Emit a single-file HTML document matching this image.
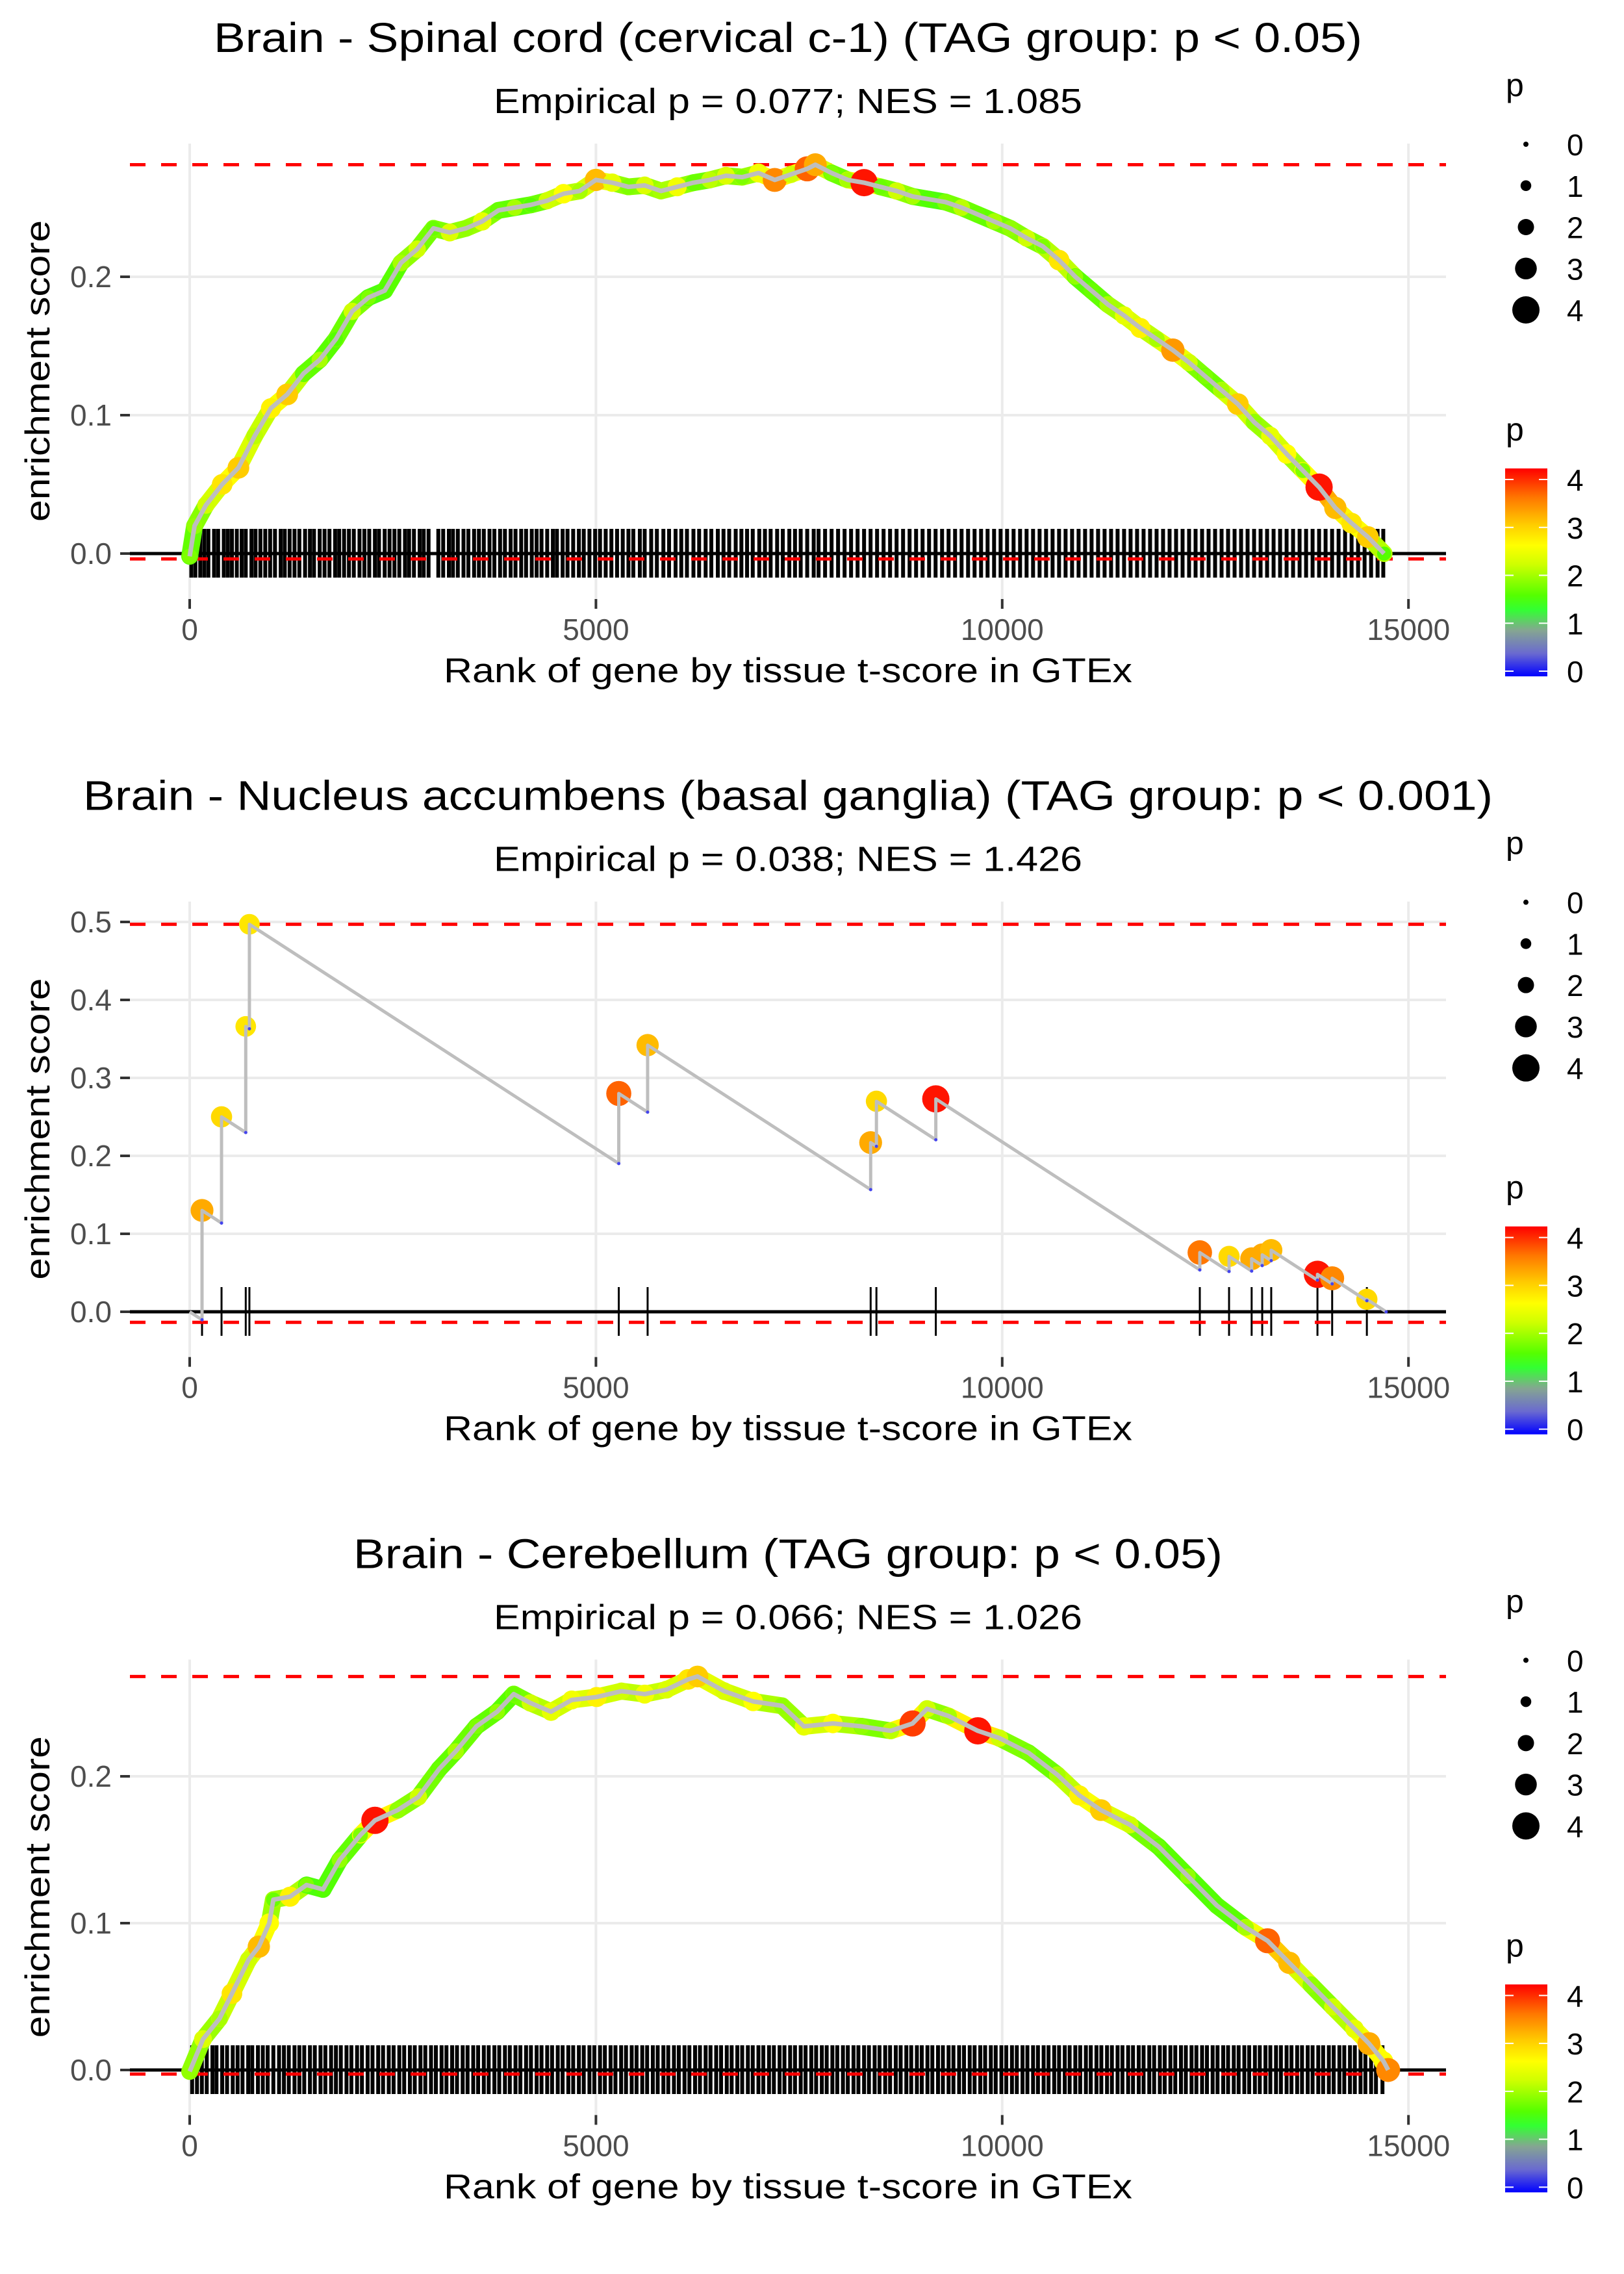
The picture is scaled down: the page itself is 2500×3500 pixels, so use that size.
<!DOCTYPE html>
<html><head><meta charset="utf-8"><title>GSEA enrichment plots</title>
<style>
html,body{margin:0;padding:0;background:#fff;}
svg{display:block;font-family:"Liberation Sans",Arial,sans-serif;}
</style></head>
<body>
<svg id="chart" xmlns="http://www.w3.org/2000/svg" width="2500" height="3500" viewBox="0 0 2500 3500">
<defs>
<linearGradient id="pgrad" x1="0" y1="1" x2="0" y2="0">
<stop offset="0" stop-color="#0000ff"/>
<stop offset="0.11" stop-color="#6a6ad0"/>
<stop offset="0.22" stop-color="#85a592"/>
<stop offset="0.32" stop-color="#33ff33"/>
<stop offset="0.39" stop-color="#55ff00"/>
<stop offset="0.54" stop-color="#d0ff00"/>
<stop offset="0.63" stop-color="#ffff00"/>
<stop offset="0.73" stop-color="#ffcc00"/>
<stop offset="0.86" stop-color="#ff7700"/>
<stop offset="1" stop-color="#ff0000"/>
</linearGradient>
</defs>
<rect x="0" y="0" width="2500" height="3500" fill="#fff"/>
<g id="panels"></g>
</svg>
<script>
// ---------- data ----------
const xTicks = [0, 5000, 10000, 15000];
const xTickLabels = ["0", "5000", "10000", "15000"];
const legendPValues = [0, 1, 2, 3, 4];

const titles = [
  "Brain - Spinal cord (cervical c-1) (TAG group: p < 0.05)",
  "Brain - Nucleus accumbens (basal ganglia) (TAG group: p < 0.001)",
  "Brain - Cerebellum (TAG group: p < 0.05)"
];
const subtitles = [
  "Empirical p = 0.077; NES = 1.085",
  "Empirical p = 0.038; NES = 1.426",
  "Empirical p = 0.066; NES = 1.026"
];

const yTicks1 = [0, 0.1, 0.2];
const yTickLabels1 = ["0.0", "0.1", "0.2"];
const yTicks2 = [0, 0.1, 0.2, 0.3, 0.4, 0.5];
const yTickLabels2 = ["0.0", "0.1", "0.2", "0.3", "0.4", "0.5"];
const yTicks3 = [0, 0.1, 0.2];
const yTickLabels3 = ["0.0", "0.1", "0.2"];

// Panel 1: Spinal cord
const ranks1 = [0,60,200,400,600,800,1000,1200,1400,1600,1800,2000,2200,2400,2600,2800,3000,3200,3400,3600,3800,4000,4200,4400,4600,4800,5000,5200,5400,5600,5800,6000,6200,6400,6600,6800,7000,7200,7400,7600,7700,7900,8100,8300,8500,8700,8900,9100,9300,9500,9700,9900,10100,10300,10500,10700,10900,11100,11300,11500,11700,11900,12100,12300,12500,12700,12900,13100,13300,13500,13700,13900,14100,14300,14500,14700];
const es1 = [-0.002,0.02,0.035,0.05,0.062,0.085,0.105,0.115,0.13,0.14,0.155,0.175,0.185,0.19,0.21,0.22,0.235,0.232,0.235,0.24,0.248,0.25,0.252,0.255,0.26,0.262,0.27,0.268,0.265,0.266,0.262,0.265,0.268,0.27,0.273,0.272,0.275,0.27,0.274,0.278,0.281,0.275,0.27,0.268,0.265,0.262,0.258,0.256,0.254,0.25,0.245,0.24,0.235,0.228,0.222,0.212,0.2,0.19,0.18,0.172,0.163,0.155,0.147,0.138,0.128,0.118,0.108,0.095,0.085,0.072,0.06,0.048,0.033,0.022,0.012,0.0];
const p1 = [1.8,1.9,2.2,2.8,3.0,2.1,2.7,3.0,1.7,2.0,1.6,2.2,1.8,1.6,2.0,2.2,1.7,2.3,1.9,2.4,1.7,2.0,1.6,2.2,2.6,2.0,3.1,2.4,1.8,2.3,2.0,2.5,1.7,2.1,2.3,1.8,2.5,3.4,2.2,3.6,3.2,1.8,2.0,4.0,1.7,2.2,2.0,1.6,1.8,2.1,1.7,2.0,1.9,2.2,1.8,2.8,1.9,1.7,2.0,2.4,2.7,2.0,3.3,2.2,1.8,2.0,3.0,1.9,2.4,2.6,1.8,4.0,3.1,2.8,3.0,1.6];
const rug1 = [20,70,130,180,230,300,350,420,470,520,580,640,690,760,810,870,930,990,1050,1120,1170,1230,1290,1350,1420,1480,1530,1600,1660,1720,1790,1840,1900,1960,2020,2090,2150,2210,2280,2330,2400,2460,2520,2580,2650,2700,2760,2830,2880,2940,3060,3120,3190,3240,3300,3370,3430,3500,3560,3620,3690,3750,3820,3880,3950,4010,4080,4140,4210,4270,4330,4400,4470,4520,4590,4650,4720,4790,4850,4920,4990,5050,5120,5190,5260,5330,5400,5460,5540,5600,5680,5750,5830,5900,5980,6050,6120,6200,6270,6350,6420,6500,6570,6640,6720,6790,6860,6930,7010,7080,7150,7230,7300,7380,7450,7520,7600,7680,7740,7820,7900,7980,8060,8140,8220,8300,8380,8460,8540,8620,8700,8780,8860,8940,9020,9100,9180,9260,9340,9420,9500,9580,9660,9740,9820,9900,9980,10060,10140,10220,10300,10380,10460,10540,10620,10700,10780,10860,10940,11020,11100,11180,11260,11340,11420,11500,11580,11660,11740,11820,11900,11980,12060,12140,12220,12300,12380,12460,12540,12620,12700,12780,12860,12940,13020,13100,13180,13260,13340,13420,13500,13580,13660,13740,13820,13900,13980,14060,14140,14220,14300,14380,14460,14540,14620,14690];

// Panel 2: Nucleus accumbens (individual gene hits)
const ranks2 = [152,392,690,735,5281,5636,8381,8452,9183,12432,12792,13070,13200,13311,13880,14061,14488];
const es2 = [0.130,0.250,0.366,0.497,0.280,0.342,0.217,0.270,0.273,0.076,0.071,0.068,0.073,0.079,0.048,0.043,0.016];
const p2 = [3.2,2.9,2.8,2.8,3.6,3.1,3.2,2.9,4.0,3.5,2.9,3.2,3.2,3.1,4.0,3.4,2.9];
const missSlope2 = 0.0000675;
const endRank2 = 14726;

// Panel 3: Cerebellum
const ranks3 = [0,164,367,520,724,851,979,1030,1234,1438,1642,1846,2101,2280,2560,2815,3070,3274,3529,3784,3988,4192,4447,4702,5008,5314,5600,5867,6134,6250,6579,6935,7292,7560,7916,8273,8629,8897,9075,9343,9700,9967,10324,10680,10948,11215,11572,11928,12285,12642,12998,13266,13533,13801,14068,14336,14514,14692,14750];
const es3 = [-0.001,0.021,0.035,0.052,0.075,0.084,0.100,0.116,0.118,0.126,0.123,0.143,0.160,0.170,0.177,0.186,0.205,0.217,0.234,0.244,0.256,0.250,0.244,0.252,0.254,0.258,0.256,0.259,0.266,0.268,0.258,0.251,0.248,0.234,0.236,0.234,0.231,0.236,0.246,0.241,0.231,0.226,0.216,0.201,0.187,0.177,0.167,0.152,0.132,0.112,0.097,0.088,0.073,0.058,0.043,0.028,0.018,0.006,0.0];
const p3 = [1.9,2.3,2.0,2.8,2.2,3.1,2.6,1.7,2.7,1.8,1.6,1.9,1.8,4.0,1.9,2.2,1.7,2.0,1.8,1.9,1.7,2.2,2.4,2.5,2.7,2.2,2.5,2.3,2.8,3.0,2.3,2.6,1.9,2.4,2.6,1.9,2.1,3.8,2.2,2.0,4.0,2.2,1.8,2.0,2.7,3.0,2.2,1.7,1.9,1.6,2.0,3.6,3.1,1.9,2.2,2.4,3.2,2.6,3.4];
const rug3 = [30,90,150,210,280,330,400,460,530,590,650,720,770,840,900,960,1030,1100,1160,1220,1290,1350,1410,1480,1540,1610,1670,1740,1800,1860,1930,1990,2060,2120,2190,2250,2320,2380,2450,2510,2580,2640,2710,2770,2840,2900,2970,3030,3100,3160,3230,3290,3360,3420,3490,3550,3620,3680,3750,3810,3880,3940,4010,4070,4140,4200,4270,4330,4400,4460,4530,4590,4660,4720,4790,4850,4920,4980,5050,5110,5180,5240,5310,5370,5440,5500,5570,5630,5700,5760,5830,5890,5960,6020,6090,6150,6220,6280,6350,6410,6480,6540,6610,6670,6740,6800,6870,6930,7000,7060,7130,7190,7260,7320,7390,7450,7520,7580,7650,7710,7780,7840,7910,7970,8040,8100,8170,8230,8300,8360,8430,8490,8560,8620,8690,8750,8820,8880,8950,9010,9080,9140,9210,9270,9340,9400,9470,9530,9600,9660,9730,9790,9860,9920,9990,10050,10120,10180,10250,10310,10380,10440,10510,10570,10640,10700,10770,10830,10900,10960,11030,11090,11160,11220,11290,11350,11420,11480,11550,11610,11680,11740,11810,11870,11940,12000,12070,12130,12200,12260,12330,12390,12460,12520,12590,12650,12720,12780,12850,12910,12980,13040,13110,13170,13240,13300,13370,13430,13500,13560,13630,13690,13760,13820,13890,13950,14020,14080,14150,14210,14280,14340,14410,14470,14540,14600,14680];

// ---------- layout ----------
const NS = "http://www.w3.org/2000/svg";
const root = document.getElementById("panels");
const PANEL_H = 1166.67;
const PLOT_L = 200, PLOT_R = 2226;
const X0 = 292, X_PER = 0.12508;
const xs = r => X0 + r * X_PER;

const panelYScale = [
  {y0: 852, per: 2130},
  {y0: 2019 - PANEL_H, per: 1200},
  {y0: 3186 - 2 * PANEL_H, per: 2260}
];
const titleLen = [1768, 2170, 1338];

const stops = [[0,[0,0,255]],[0.45,[106,106,208]],[0.9,[133,165,146]],[1.3,[51,255,51]],[1.6,[85,255,0]],[2.2,[208,255,0]],[2.6,[255,255,0]],[3.0,[255,204,0]],[3.5,[255,119,0]],[4.1,[255,0,0]]];
function pColor(p) {
  if (p <= stops[0][0]) return "rgb(0,0,255)";
  for (let i = 1; i < stops.length; i++) {
    if (p <= stops[i][0]) {
      const a = stops[i-1], b = stops[i];
      const t = (p - a[0]) / (b[0] - a[0]);
      const c = a[1].map((v, k) => Math.round(v + (b[1][k] - v) * t));
      return "rgb(" + c.join(",") + ")";
    }
  }
  return "rgb(255,0,0)";
}
const pRadius = p => 4 + p * 4.25;

function mk(tag, attrs, parent) {
  const el = document.createElementNS(NS, tag);
  for (const k in attrs) el.setAttribute(k, attrs[k]);
  (parent || root).appendChild(el);
  return el;
}

function drawPanel(idx, yTicks, yLabels) {
  const off = idx * PANEL_H;
  const sc = panelYScale[idx];
  const ys = v => off + sc.y0 - v * sc.per;
  const top = off + 221, bot = off + 922;
  const g = mk("g", {});
  
  

  yTicks.forEach(v => {
    const l = mk("line", {x1: PLOT_L, x2: PLOT_R, y1: ys(v), y2: ys(v), stroke: "#ebebeb", "stroke-width": 4}, g);
    
    
  });
  xTicks.forEach(v => {
    const l = mk("line", {x1: xs(v), x2: xs(v), y1: top, y2: bot, stroke: "#ebebeb", "stroke-width": 4}, g);
    
    
  });
  yTicks.forEach((v, i) => {
    const t = mk("line", {x1: PLOT_L - 15, x2: PLOT_L, y1: ys(v), y2: ys(v), stroke: "#333", "stroke-width": 4}, g);
    
    
    const tx = mk("text", {x: 172, y: ys(v) + 16, "text-anchor": "end", "font-size": 46, fill: "#4d4d4d"}, g);
    tx.textContent = yLabels[i];
    
    
  });
  xTicks.forEach((v, i) => {
    const t = mk("line", {x1: xs(v), x2: xs(v), y1: bot, y2: bot + 15, stroke: "#333", "stroke-width": 4}, g);
    
    
    const tx = mk("text", {x: xs(v), y: off + 985, "text-anchor": "middle", "font-size": 46, fill: "#4d4d4d"}, g);
    tx.textContent = xTickLabels[i];
    
    
  });
  const tt = mk("text", {x: 1213, y: off + 80, "text-anchor": "middle", "font-size": 64, fill: "#000", textLength: titleLen[idx], lengthAdjust: "spacingAndGlyphs"}, g);
  tt.textContent = titles[idx];
  
  
  const st = mk("text", {x: 1213, y: off + 174, "text-anchor": "middle", "font-size": 54, fill: "#000", textLength: 906, lengthAdjust: "spacingAndGlyphs"}, g);
  st.textContent = subtitles[idx];
  
  
  const xt = mk("text", {x: 1213, y: off + 1050, "text-anchor": "middle", "font-size": 53, fill: "#000", textLength: 1060, lengthAdjust: "spacingAndGlyphs"}, g);
  xt.textContent = "Rank of gene by tissue t-score in GTEx";
  
  
  const yt = mk("text", {x: 0, y: 0, "text-anchor": "middle", "font-size": 53, fill: "#000", textLength: 464, lengthAdjust: "spacingAndGlyphs", transform: "translate(76," + (off + 571) + ") rotate(-90)"}, g);
  yt.textContent = "enrichment score";
  
  

  return {g, ys, off};
}

function drawCommon(P, rug, esArr, rugW) {
  const {g, ys} = P;
  const y0 = ys(0);
  rug.forEach(r => {
    const l = mk("line", {x1: xs(r), x2: xs(r), y1: y0 - 38, y2: y0 + 37, stroke: "#000", "stroke-width": rugW}, g);
    
    
  });
  const zl = mk("line", {x1: PLOT_L, x2: PLOT_R, y1: y0, y2: y0, stroke: "#000", "stroke-width": 5}, g);
  
  
  const mx = Math.max(...esArr), mn = Math.min(...esArr);
  [mx, mn].forEach((v, i) => {
    const d = mk("line", {x1: PLOT_L, x2: PLOT_R, y1: ys(v) + (i ? 4 : 0), y2: ys(v) + (i ? 4 : 0), stroke: "#ff0000", "stroke-width": 5, "stroke-dasharray": "24 24"}, g);
    
    
  });
}

function drawDense(P, ranks, es, ps) {
  const {g, ys} = P;
  for (let i = 1; i < ranks.length; i++) {
    const s = mk("line", {x1: xs(ranks[i-1]), y1: ys(es[i-1]), x2: xs(ranks[i]), y2: ys(es[i]), stroke: pColor((ps[i] + ps[i-1]) / 2 * 0.9), "stroke-width": 26, "stroke-linecap": "round"}, g);
    
    
  }
  ranks.forEach((r, i) => {
    const c = mk("circle", {cx: xs(r), cy: ys(es[i]), r: pRadius(ps[i]), fill: pColor(ps[i])}, g);
    
    
  });
  const pl = mk("polyline", {points: ranks.map((r, i) => xs(r) + "," + ys(es[i])).join(" "), fill: "none", stroke: "#bebebe", "stroke-width": 7, "stroke-linejoin": "round"}, g);
  
  
}

function drawLegends(off) {
  const lg = mk("g", {});
  
  
  const t1 = mk("text", {x: 2318, y: off + 148, "font-size": 50, fill: "#000"}, lg);
  t1.textContent = "p";
  
  
  legendPValues.forEach((v, i) => {
    const cy = off + 222 + i * 63.75;
    const c = mk("circle", {cx: 2349, cy: cy, r: pRadius(v), fill: "#000"}, lg);
    
    
    const t = mk("text", {x: 2412, y: cy + 17, "font-size": 46, fill: "#000"}, lg);
    t.textContent = String(v);
    
    
  });
  const t2 = mk("text", {x: 2318, y: off + 678, "font-size": 50, fill: "#000"}, lg);
  t2.textContent = "p";
  
  
  const bar = mk("rect", {x: 2317, y: off + 721, width: 65, height: 320, fill: "url(#pgrad)"}, lg);
  
  
  legendPValues.forEach(v => {
    const y = off + 1033 - v * 73.75;
    [[2317, 2330], [2369, 2382]].forEach(xx => {
      const tk = mk("line", {x1: xx[0], x2: xx[1], y1: y, y2: y, stroke: "#fff", "stroke-width": 2}, lg);
      
      
    });
    const t = mk("text", {x: 2412, y: y + 17, "font-size": 46, fill: "#000"}, lg);
    t.textContent = String(v);
    
    
  });
}

// Panel 1
const P1 = drawPanel(0, yTicks1, yTickLabels1);
drawCommon(P1, rug1, es1, 6);
drawDense(P1, ranks1, es1, p1);
drawLegends(0);

// Panel 2 (step path)
const P2 = drawPanel(1, yTicks2, yTickLabels2);
const path2 = [[0, 0]];
const valleys2 = [];
let prevR = 0, prevE = 0;
ranks2.forEach((r, i) => {
  const v = prevE - missSlope2 * (r - prevR);
  path2.push([r, v]);
  valleys2.push([r, v]);
  path2.push([r, es2[i]]);
  prevR = r; prevE = es2[i];
});
const endE2 = prevE - missSlope2 * (endRank2 - prevR);
path2.push([endRank2, endE2]);
valleys2.push([endRank2, endE2]);
drawCommon(P2, ranks2, path2.map(d => d[1]), 3);
ranks2.forEach((r, i) => {
  const c = mk("circle", {cx: xs(r), cy: P2.ys(es2[i]), r: pRadius(p2[i]), fill: pColor(p2[i])}, P2.g);
  
  
});
const pl2 = mk("polyline", {points: path2.map(d => xs(d[0]) + "," + P2.ys(d[1])).join(" "), fill: "none", stroke: "#bebebe", "stroke-width": 5, "stroke-linejoin": "round"}, P2.g);


valleys2.forEach(d => {
  const c = mk("circle", {cx: xs(d[0]), cy: P2.ys(d[1]), r: 2.5, fill: "#4444ee"}, P2.g);
  
  
});
drawLegends(PANEL_H);

// Panel 3
const P3 = drawPanel(2, yTicks3, yTickLabels3);
drawCommon(P3, rug3, es3, 6);
drawDense(P3, ranks3, es3, p3);
drawLegends(2 * PANEL_H);
</script>
</body></html>
